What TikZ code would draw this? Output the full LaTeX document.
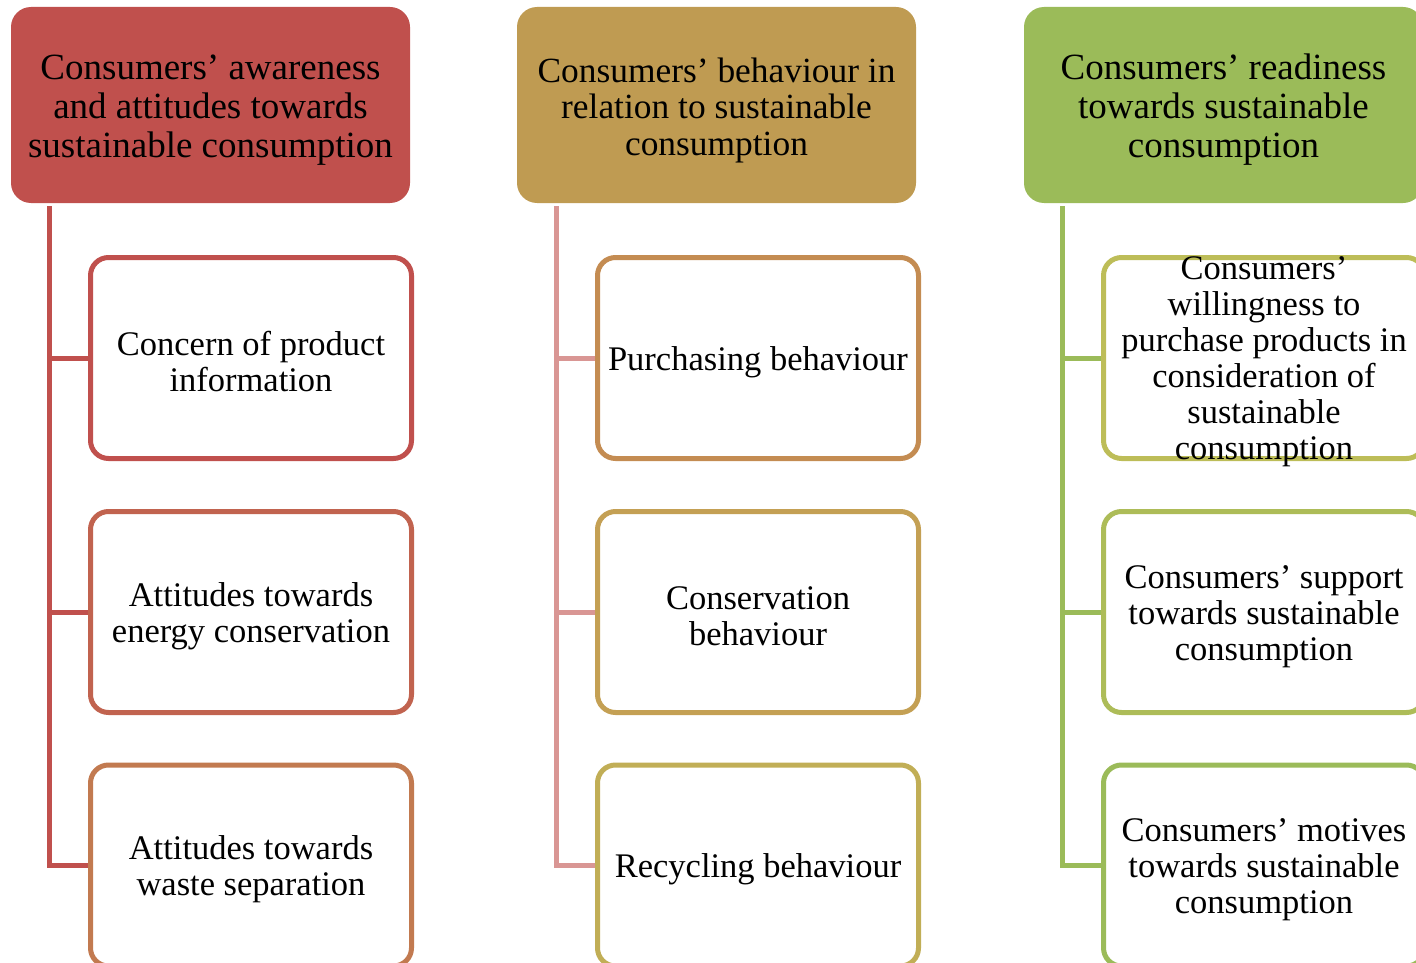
\documentclass[tikz,border=0pt]{standalone}
\usepackage{fontspec}
\setmainfont{Liberation Serif}
\usetikzlibrary{calc}

\definecolor{hdred}{HTML}{C0504D}
\definecolor{hdgold}{HTML}{BF9B52}
\definecolor{hdgreen}{HTML}{9BBB59}
\definecolor{lnred}{HTML}{C0504D}
\definecolor{lnpink}{HTML}{D99694}
\definecolor{lngreen}{HTML}{9BBB59}
\definecolor{bxa}{HTML}{C0504D}
\definecolor{bxb}{HTML}{C1634F}
\definecolor{bxc}{HTML}{C27A50}
\definecolor{bxd}{HTML}{C48C52}
\definecolor{bxe}{HTML}{C4A054}
\definecolor{bxf}{HTML}{C1AE56}
\definecolor{bxg}{HTML}{BDBD58}
\definecolor{bxh}{HTML}{ADBC58}
\definecolor{bxi}{HTML}{9BBB59}

% a taller invisible strut on the first line lowers the text block a little
\newcommand{\hdstrut}{\rule{0pt}{35pt}}
\newcommand{\itstrut}{\rule{0pt}{32pt}}
% text that may run past its box without enlarging it
\newcommand{\overflowtext}[2][0pt]{\raisebox{#1}{\smash{\parbox[c]{300pt}{\centering #2}}}}

\tikzset{
  header/.style={rectangle, rounded corners=20pt, inner sep=0pt,
    minimum width=399pt, minimum height=196pt, align=center,
    font=\fontsize{37}{39}\selectfont},
  item/.style={rectangle, rounded corners=18pt, inner sep=0pt, fill=white,
    line width=5pt, minimum width=321pt, minimum height=201pt, align=center,
    font=\fontsize{34.5}{36}\selectfont},
  link/.style={line width=5pt}
}

\begin{document}
\begin{tikzpicture}[x=1pt,y=-1pt]
\useasboundingbox (0,0) rectangle (1416,963);
\clip (0,0) rectangle (1416,963);

% column headers
\node[header, fill=hdred] (h1) at (210.5,105)
  {\hdstrut Consumers’ awareness\\and attitudes towards\\sustainable consumption};
\node[header, fill=hdgold, font=\fontsize{35.4}{36.5}\selectfont] (h2) at (716.5,105)
  {\hdstrut Consumers’ behaviour in\\relation to sustainable\\consumption};
\node[header, fill=hdgreen] (h3) at (1223.5,105)
  {\hdstrut Consumers’ readiness\\towards sustainable\\consumption};

% spine start points below each header
\coordinate (t1) at (49,206);
\coordinate (t2) at (556,206);
\coordinate (t3) at (1062,206);

% items of the first column
\node[item, draw=bxa] (c11) at (251,358) {\itstrut Concern of product\\information};
\node[item, draw=bxb] (c12) at (251,612) {\itstrut Attitudes towards\\energy conservation};
\node[item, draw=bxc] (c13) at (251,865.5) {\itstrut Attitudes towards\\waste separation};

% items of the second column
\node[item, draw=bxd] (c21) at (758,358) {\itstrut Purchasing behaviour};
\node[item, draw=bxe] (c22) at (758,612) {\itstrut Conservation\\behaviour};
\node[item, draw=bxf] (c23) at (758,865.5) {\itstrut Recycling behaviour};

% items of the third column
\node[item, draw=bxg] (c31) at (1264,358)
  {\overflowtext[-19pt]{Consumers’\\willingness to\\purchase products in\\consideration of\\sustainable\\consumption}};
\node[item, draw=bxh] (c32) at (1264,612)
  {\itstrut Consumers’ support\\towards sustainable\\consumption};
\node[item, draw=bxi] (c33) at (1264,865.5)
  {\itstrut Consumers’ motives\\towards sustainable\\consumption};

% connectors: one spine per column with a branch to each item
\draw[link, lnred] (t1) |- (c13.west);
\draw[link, lnred] (t1 |- c11.west) -- (c11.west);
\draw[link, lnred] (t1 |- c12.west) -- (c12.west);
\draw[link, lnpink] (t2) |- (c23.west);
\draw[link, lnpink] (t2 |- c21.west) -- (c21.west);
\draw[link, lnpink] (t2 |- c22.west) -- (c22.west);
\draw[link, lngreen] (t3) |- (c33.west);
\draw[link, lngreen] (t3 |- c31.west) -- (c31.west);
\draw[link, lngreen] (t3 |- c32.west) -- (c32.west);
\end{tikzpicture}
\end{document}
